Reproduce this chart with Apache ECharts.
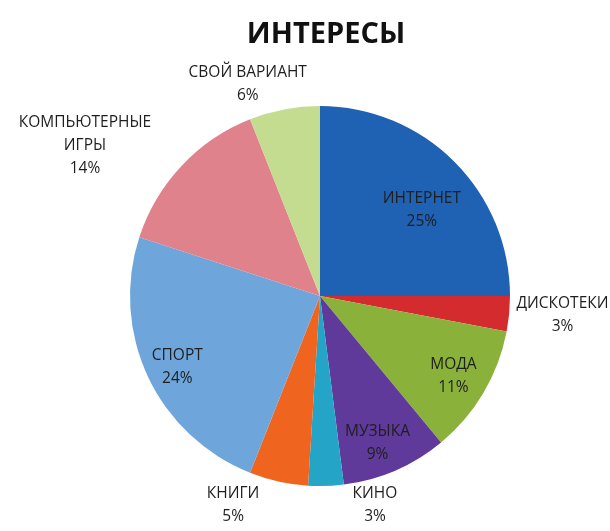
<!DOCTYPE html>
<html>
<head>
<meta charset="utf-8">
<script src="https://cdn.jsdelivr.net/npm/echarts@6/dist/echarts.min.js"></script>
<style>
  html, body { margin: 0; padding: 0; background: #ffffff; }
  #main { width: 610px; height: 531px; }
</style>
</head>
<body>
<div id="main"></div>
<script>
// данные
var categories = ['ИНТЕРНЕТ', 'ДИСКОТЕКИ', 'МОДА', 'МУЗЫКА', 'КИНО', 'КНИГИ', 'СПОРТ', 'КОМПЬЮТЕРНЫЕ\nИГРЫ', 'СВОЙ ВАРИАНТ']
var values = [25, 3, 11, 9, 3, 5, 24, 14, 6]
var colors = ['#1f61b2', '#d42b2f', '#8ab23a', '#5f3a9a', '#24a4c6', '#ef641f', '#6ea6dc', '#e0828b', '#c4dc8f']

// где стоят подписи: сдвиг угла от середины сектора (град.) и доля радиуса
var labelTurn = [5, -1, 0.5, 2, -12.9, 10, -1.4, -10.5, -8]
var labelDist = [0.70, 1.28, 0.82, 0.83, 1.14, 1.19, 0.84, 1.47, 1.18]

var cx = 320
var cy = 296
var R = 190

var total = values.reduce(function(a, b) { return a + b }, 0)
var midAngles = []
var acc = 0
for (var i = 0; i < values.length; i++) {
  midAngles.push((acc + values[i] / 2) / total * 360)
  acc += values[i]
}

var chart = echarts.init(document.getElementById('main'))
chart.setOption({
  animation: false,
  title: {
    text: 'ИНТЕРЕСЫ',
    left: 321,
    top: 15,
    textAlign: 'center',
    textStyle: {
      fontFamily: 'Open Sans',
      fontWeight: 'bold',
      fontSize: 29,
      color: '#111111'
    }
  },
  series: [{
    type: 'pie',
    center: [cx, cy],
    radius: [0, R],
    startAngle: 90,
    clockwise: true,
    avoidLabelOverlap: false,
    labelLine: { show: false },
    label: {
      show: true,
      position: 'inside',
      formatter: '{b}\n{d}%',
      fontFamily: 'Open Sans',
      fontSize: 15.5,
      lineHeight: 23,
      color: '#1e1e1e',
      align: 'center'
    },
    labelLayout: function(p) {
      var k = p.dataIndex
      var a = (midAngles[k] + labelTurn[k]) * Math.PI / 180
      return {
        x: cx + Math.sin(a) * R * labelDist[k],
        y: cy - Math.cos(a) * R * labelDist[k],
        align: 'center',
        verticalAlign: 'middle'
      }
    },
    itemStyle: { borderWidth: 0 },
    data: categories.map(function(name, idx) {
      return { name: name, value: values[idx], itemStyle: { color: colors[idx] } }
    })
  }]
})
</script>
</body>
</html>
